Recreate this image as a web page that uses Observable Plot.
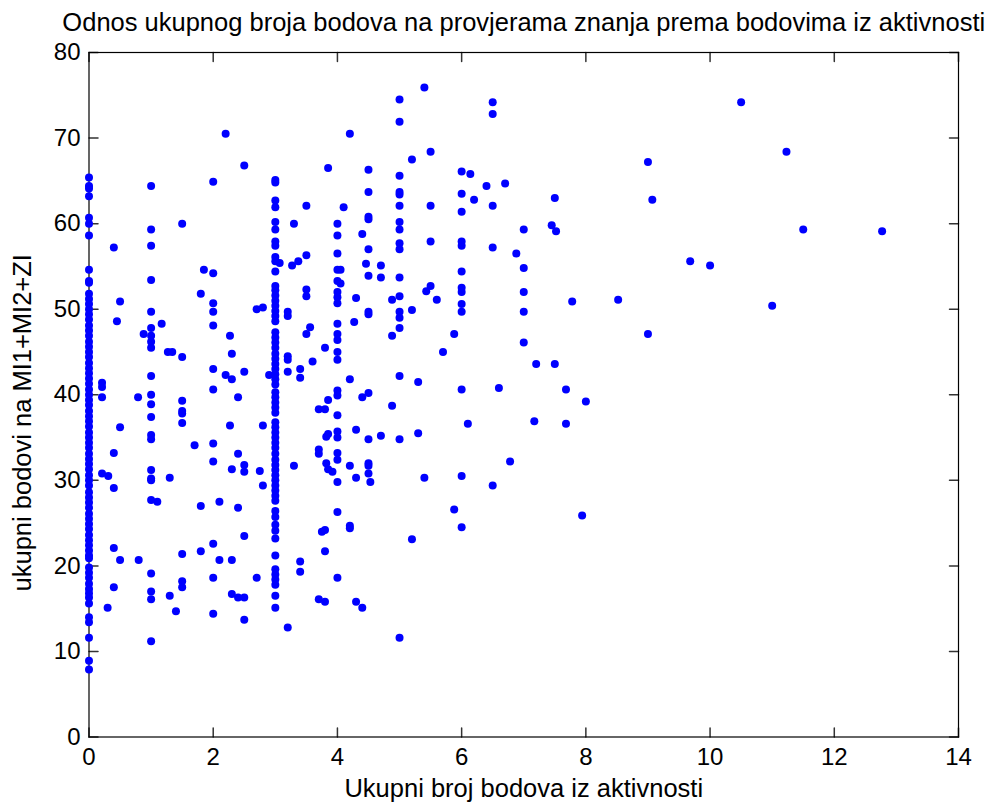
<!DOCTYPE html>
<html><head><meta charset="utf-8">
<script src="https://cdn.jsdelivr.net/npm/d3@7"></script>
<script src="https://cdn.jsdelivr.net/npm/@observablehq/plot@0.6"></script>
<style>body{margin:0;background:#fff} svg{display:block}</style>
</head><body><div id="chart"></div>
<script>
// ---- data ----
const titleText = ["Odnos ukupnog broja bodova na provjerama znanja prema bodovima iz aktivnosti"];
const xLabel = ["Ukupni broj bodova iz aktivnosti"];
const yLabel = ["ukupni bodovi na MI1+MI2+ZI"];
const xTicks = [0, 2, 4, 6, 8, 10, 12, 14];
const yTicks = [0, 10, 20, 30, 40, 50, 60, 70, 80];

// students with activity score exactly 0, 1, 1.5, 2, 3, 4, 4.5, 5, 6, 7
const col0 = [65.4,64.4,64.1,63.2,60.7,60.0,58.6,54.6,53.3,53.1,51.8,51.2,50.6,50.0,49.4,48.8,48.1,47.5,46.9,46.2,45.6,45.0,44.4,43.7,43.1,42.5,41.9,41.3,40.6,40.0,39.4,38.8,38.1,37.5,36.9,36.3,35.6,35.0,34.4,33.8,33.1,32.5,31.9,31.3,30.6,30.0,29.4,28.6,28.0,27.4,26.8,26.1,25.5,24.9,24.3,23.6,23.0,22.4,21.8,21.2,20.9,19.8,19.2,18.6,17.9,17.3,16.8,16.3,15.6,14.0,13.4,11.6,8.9,7.9];
const col1 = [64.4,59.3,57.4,53.4,49.7,47.8,46.9,46.2,45.5,42.2,40.0,38.9,37.4,35.3,34.8,31.2,30.2,30.0,27.7,19.1,17.0,16.1,11.2];
const col1_5 = [60.0,44.4,39.3,38.1,37.8,36.7,21.4,18.2,17.5];
const col2 = [64.9,54.2,50.7,49.7,48.1,43.0,40.6,34.3,32.2,22.6,18.6,14.4];
const col3 = [65.1,64.8,62.7,61.9,60.2,59.3,57.9,57.4,56.1,55.6,54.4,52.7,52.2,51.6,51.0,50.4,49.8,49.2,48.6,47.3,46.7,46.1,45.5,44.8,44.2,43.6,43.0,42.4,41.8,41.2,40.3,39.7,39.1,38.5,37.9,36.8,36.2,35.6,35.0,34.4,33.8,33.1,32.4,31.8,31.2,30.6,30.0,29.4,28.8,28.2,27.6,26.4,25.7,24.8,24.1,23.2,21.2,19.6,19.0,18.4,17.8,16.5,15.1];
const col4 = [60.0,58.6,56.5,54.6,53.3,52.0,51.4,50.7,48.3,47.1,46.4,45.0,44.1,40.5,39.9,37.6,35.7,35.0,33.2,32.4,29.8,26.3,18.6];
const col4_5 = [66.3,63.7,60.8,60.5,57.0,53.9,49.7,49.4,40.2,34.8,32.0,31.7,30.8];
const col5 = [74.5,71.9,65.6,63.7,63.4,62.1,60.2,59.3,57.7,57.0,53.7,51.5,49.7,49.0,47.8,42.2,34.8,11.6];
const col6 = [66.1,63.5,61.4,57.9,57.4,54.4,52.5,52.0,50.6,49.7,40.6,30.5,24.5];
const col7 = [59.3,54.8,52.0,49.7,46.1];

// remaining students (activity, exam score)
const otherActivity = [0.21,0.21,0.21,0.21,0.31,0.3,0.4,0.4,0.4,0.4,0.4,0.45,0.5,0.5,0.5,0.79,0.8,0.88,
  1.1,1.17,1.27,1.34,1.3,1.3,1.4,1.7,1.8,1.8,1.8,1.85,
  2.1,2.1,2.2,2.2,2.27,2.27,2.3,2.3,2.3,2.3,2.3,2.4,2.4,2.4,2.4,2.5,2.5,2.5,2.5,2.5,2.5,2.5,2.7,2.7,2.75,2.8,2.8,2.8,2.9,
  3.07,3.2,3.2,3.2,3.2,3.2,3.2,3.27,3.3,3.3,3.37,3.4,3.4,3.4,3.4,3.5,3.5,3.5,3.5,3.5,3.56,3.6,3.7,3.7,3.7,3.7,3.75,3.8,3.8,3.8,3.8,3.8,3.82,3.82,3.85,3.85,3.85,3.85,3.92,
  4.05,4.05,4.1,4.2,4.2,4.2,4.2,4.2,4.27,4.3,4.3,4.3,4.3,4.4,4.4,4.4,4.46,4.53,4.7,4.7,4.7,4.88,4.88,4.88,
  5.2,5.2,5.2,5.3,5.3,5.4,5.4,5.43,5.5,5.5,5.5,5.5,5.6,5.7,5.88,5.88,
  6.1,6.14,6.2,6.4,6.5,6.5,6.5,6.5,6.5,6.6,6.7,6.78,6.88,
  7.17,7.2,7.45,7.5,7.5,7.52,7.68,7.68,7.78,7.94,8.0,8.52,9.0,9.0,9.07,9.68,10.0,10.5,11.0,11.23,11.5,12.77];
const otherScore = [41.4,40.9,39.7,30.8,30.5,15.1,57.2,33.2,29.1,22.1,17.5,48.6,50.9,36.2,20.7,39.7,20.7,47.1,
  27.5,48.3,45.0,45.0,30.3,16.5,14.7,34.1,51.8,27.0,21.7,54.6,
  27.5,20.7,70.5,42.3,46.9,36.4,44.8,41.8,31.3,20.7,16.7,39.7,33.1,26.8,16.3,66.8,42.7,31.8,31.0,23.5,16.3,13.7,50.0,18.6,31.1,50.2,36.4,29.4,42.3,
  55.4,49.7,49.2,44.5,44.1,42.7,12.8,55.1,60.0,31.7,55.6,43.0,42.0,20.5,19.3,62.1,56.3,52.3,51.5,47.1,47.9,43.9,38.3,33.6,33.1,16.1,24.0,45.5,38.3,24.2,21.7,15.8,35.1,32.0,66.5,39.4,35.4,31.3,31.0,
  54.6,53.0,61.9,70.5,41.8,31.7,24.7,24.4,48.5,51.3,35.9,30.3,15.8,58.8,39.7,15.1,55.3,29.8,55.1,53.7,35.2,51.1,46.9,38.7,
  67.5,49.9,23.1,41.5,35.5,75.9,30.3,52.1,68.4,62.1,57.9,52.7,51.1,45.0,47.1,26.6,
  36.6,65.8,62.8,64.4,74.2,72.8,62.1,57.2,29.4,40.8,64.7,32.2,56.5,
  36.9,43.6,59.8,63.0,43.6,59.1,40.6,36.6,50.9,25.9,39.2,51.1,67.2,47.1,62.8,55.6,55.1,74.2,50.4,68.4,59.3,59.1];

// ---- build table ----
const columns = [[0,col0],[1,col1],[1.5,col1_5],[2,col2],[3,col3],[4,col4],[4.5,col4_5],[5,col5],[6,col6],[7,col7]];
const data = [];
for (const [a, ys] of columns) for (const s of ys) data.push({x: a, y: s});
otherActivity.forEach((a, i) => data.push({x: a, y: otherScore[i]}));

const tickShape = {draw(context, l) { context.moveTo(0, 0); context.lineTo(0, -l); }};
const font = "'Liberation Sans', Arial, Helvetica, sans-serif";
const tickLen = 9;
const tickColor = "#333";

const chart = Plot.plot({
  width: 989, height: 807,
  marginLeft: 88.5, marginRight: 31, marginTop: 52, marginBottom: 70.5,
  style: {fontFamily: font, fontSize: "24px", background: "white", color: "black", overflow: "visible"},
  x: {domain: [0, 14]},
  y: {domain: [0, 80]},
  marks: [
    Plot.vector(xTicks, {x: d => d, frameAnchor: "bottom", length: tickLen, rotate: 0, anchor: "start", shape: tickShape, stroke: tickColor}),
    Plot.vector(xTicks, {x: d => d, frameAnchor: "top", length: tickLen, rotate: 180, anchor: "start", shape: tickShape, stroke: tickColor}),
    Plot.vector(yTicks, {y: d => d, frameAnchor: "left", length: tickLen, rotate: 90, anchor: "start", shape: tickShape, stroke: tickColor}),
    Plot.vector(yTicks, {y: d => d, frameAnchor: "right", length: tickLen, rotate: 270, anchor: "start", shape: tickShape, stroke: tickColor}),
    Plot.frame({stroke: "black", strokeWidth: 1.2}),
    Plot.axisX(xTicks, {anchor: "bottom", tickSize: 0, tickPadding: 11, label: null, fontSize: 24}),
    Plot.axisY(yTicks, {anchor: "left", tickSize: 0, tickPadding: 8.5, label: null, fontSize: 24}),
    Plot.dot(data, {x: "x", y: "y", r: 4, fill: "#0000ff", stroke: "none"}),
    Plot.text(titleText, {text: d => d, frameAnchor: "top", dy: -29.5, fontSize: 25.5, lineAnchor: "middle"}),
    Plot.text(xLabel, {text: d => d, frameAnchor: "bottom", dy: 51.5, fontSize: 25.5, lineAnchor: "middle"}),
    Plot.text(yLabel, {text: d => d, frameAnchor: "left", textAnchor: "middle", rotate: -90, dx: -66.5, dy: 28, fontSize: 25.5, lineAnchor: "middle"})
  ]
});
document.getElementById("chart").append(chart);
</script>
</body></html>
